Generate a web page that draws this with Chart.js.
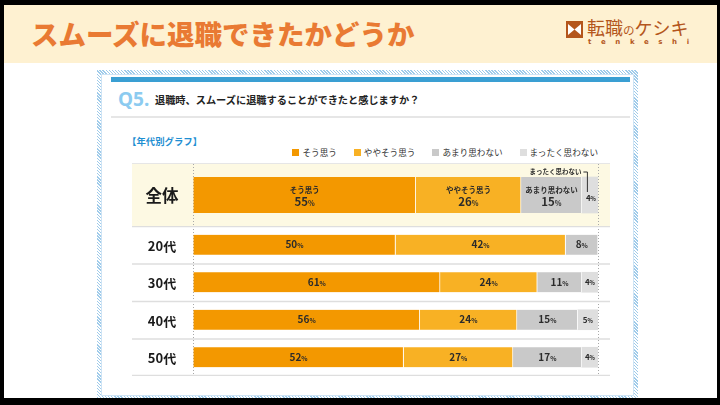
<!DOCTYPE html>
<html lang="ja">
<head>
<meta charset="utf-8">
<script src="https://cdn.jsdelivr.net/npm/chart.js@4.4.1/dist/chart.umd.min.js"></script>
<style>
  html, body { margin: 0; padding: 0; }
  body { width: 720px; height: 405px; background: #000; position: relative; overflow: hidden;
         font-family: "Noto Sans CJK JP", "Noto Sans", sans-serif; }
  .abs { position: absolute; }
  #header { left: 4px; top: 5px; width: 713px; height: 58px; background: #fef1d1; }
  #title { left: 31px; top: 13px; font-size: 27.5px; font-weight: 900; color: #e97a33; white-space: nowrap; }
  #logoText { left: 587px; top: 16px; font-size: 18px; color: #b4561c; white-space: nowrap; line-height: 22px; }
  #logoText small { font-size: 11.5px; }
  #logoSub { left: 588px; top: 38px; font-family: "DejaVu Sans", sans-serif; font-size: 7px; font-weight: bold;
             color: #b4561c; letter-spacing: 9.6px; }
  #white { left: 4px; top: 63px; width: 713px; height: 335px; background: #fff; }
  #frame { left: 97px; top: 70px; width: 541px; height: 328px;
           background: repeating-linear-gradient(45deg, #9fcbea 0 1px, #ffffff 1px 2.2px); }
  #inner { left: 101px; top: 74px; width: 531px; height: 320px; background: #fff; border: 1px solid #cfe4f5; }
  #bluebar { left: 111px; top: 77px; width: 519px; height: 5px; background: #3a9fd3; }
  #q5 { left: 118px; top: 87px; font-family: "Noto Sans", sans-serif; font-size: 19px; font-weight: bold;
        color: #8ccbf0; line-height: 24px; }
  #question { left: 155px; top: 92px; font-size: 10.2px; font-weight: bold; color: #222; line-height: 16px; white-space: nowrap; }
  #grayline { left: 111px; top: 116px; width: 519px; height: 2px; background: #e6e6e6; }
  #subtitle { left: 127px; top: 133px; font-size: 9.4px; font-weight: bold; color: #1f8fd2; line-height: 16px; white-space: nowrap; }
  #legend { right: 122px; top: 147px; height: 10px; display: flex; align-items: center; gap: 17px; }
  #legend .item { display: flex; align-items: center; font-size: 8.6px; color: #333; white-space: nowrap; }
  #legend .box { width: 7px; height: 7px; margin-right: 3px; }
  #totalRow { left: 132px; top: 163px; width: 478px; height: 63px; background: #fdf9e3; border-top: 1px solid #e6e6e6; box-sizing: border-box; }
  canvas { position: absolute; }
</style>
</head>
<body>
<div id="header" class="abs"></div>
<div id="title" class="abs">スムーズに退職できたかどうか</div>
<svg class="abs" style="left:566px;top:21px" width="17" height="17" viewBox="0 0 17 17">
  <rect x="0" y="0" width="17" height="17" fill="#b4561c"/>
  <polygon points="2,3 8.5,8.5 2,14" fill="#fff"/>
  <polygon points="15,3 8.5,8.5 15,14" fill="#fff"/>
</svg>
<div id="logoText" class="abs">転職<small>の</small>ケシキ</div>
<div id="logoSub" class="abs">tenkeshi</div>
<div id="white" class="abs"></div>
<div id="frame" class="abs"></div>
<div id="inner" class="abs"></div>
<div id="bluebar" class="abs"></div>
<div id="q5" class="abs">Q5.</div>
<div id="question" class="abs">退職時、スムーズに退職することができたと感じますか？</div>
<div id="grayline" class="abs"></div>
<div id="subtitle" class="abs">【年代別グラフ】</div>
<div id="legend" class="abs"></div>
<div id="totalRow" class="abs"></div>
<canvas id="chartTotal" width="478" height="62" style="left:132px;top:164px"></canvas>
<canvas id="chartAge" width="478" height="150" style="left:132px;top:226px"></canvas>
<script>
const seriesNames = ["そう思う", "ややそう思う", "あまり思わない", "まったく思わない"];
const seriesColors = ["#f39800", "#f8b124", "#c9c9c9", "#dedede"];

const totalLabels = ["全体"];
const totalValues = [55, 26, 15, 4];

const ageLabels = ["20代", "30代", "40代", "50代"];
const soOmou = [50, 61, 56, 52];
const yayaSoOmou = [42, 24, 24, 27];
const amariOmowanai = [8, 11, 15, 17];
const mattakuOmowanai = [0, 4, 5, 4];

// legend
const legendEl = document.getElementById("legend");
seriesNames.forEach((name, i) => {
  const item = document.createElement("div");
  item.className = "item";
  item.innerHTML = '<span class="box" style="background:' + seriesColors[i] + '"></span>' + name;
  legendEl.appendChild(item);
});

const textColor = "#2b2b2b";
const fontFamily = '"Noto Sans CJK JP", "Noto Sans", sans-serif';

function drawPct(ctx, v, cx, y, numSize, pctSize) {
  ctx.font = "bold " + numSize + "px " + fontFamily;
  const wn = ctx.measureText(String(v)).width;
  ctx.font = "bold " + pctSize + "px " + fontFamily;
  const wp = ctx.measureText("%").width;
  const x = cx - (wn + wp) / 2;
  ctx.textAlign = "left";
  ctx.textBaseline = "alphabetic";
  ctx.font = "bold " + numSize + "px " + fontFamily;
  ctx.fillText(String(v), x, y + numSize * 0.36);
  ctx.font = "bold " + pctSize + "px " + fontFamily;
  ctx.fillText("%", x + wn, y + numSize * 0.36);
}

// category names in the left column, value labels inside the bars
const segLabels = {
  id: "segLabels",
  afterDatasetsDraw(chart, args, opts) {
    const ctx = chart.ctx;
    const yScale = chart.scales.y;
    ctx.save();
    ctx.fillStyle = "#1a1a1a";
    ctx.font = "bold " + opts.catSize + "px " + fontFamily;
    ctx.textAlign = "center";
    ctx.textBaseline = "middle";
    chart.data.labels.forEach((lab, j) => {
      ctx.fillText(lab, chart.chartArea.left - 31, yScale.getPixelForValue(j) + 1);
    });

    ctx.fillStyle = textColor;
    chart.data.datasets.forEach((ds, i) => {
      chart.getDatasetMeta(i).data.forEach((bar, j) => {
        const v = ds.data[j];
        if (!v) return;
        const cx = (bar.x + bar.base) / 2;
        const small = v < 6;
        if (opts.names) {
          if (small) {
            drawPct(ctx, v, cx + 1, bar.y + 3, 8, 5.5);
            const lx = cx - 2.5;
            const top = bar.y - bar.height / 2 - 5;
            ctx.strokeStyle = "#333";
            ctx.lineWidth = 1;
            ctx.beginPath();
            ctx.moveTo(lx - 4, top);
            ctx.lineTo(lx, top);
            ctx.lineTo(lx, bar.y - 3);
            ctx.stroke();
            ctx.font = "bold 6.5px " + fontFamily;
            ctx.textAlign = "right";
            ctx.textBaseline = "middle";
            ctx.fillText(ds.label, lx - 6, top);
          } else {
            ctx.font = "bold 7.5px " + fontFamily;
            ctx.textAlign = "center";
            ctx.textBaseline = "middle";
            ctx.fillText(ds.label, cx, bar.y - 5);
            drawPct(ctx, v, cx, bar.y + 6.5, 11.5, 7);
          }
        } else {
          if (small) drawPct(ctx, v, cx, bar.y, 8, 5.5);
          else drawPct(ctx, v, cx, bar.y, 10, 6.5);
        }
      });
    });
    ctx.restore();
  }
};

const rowLines = {
  id: "rowLines",
  beforeDatasetsDraw(chart, args, opts) {
    if (!opts.rows) return;
    const ctx = chart.ctx;
    const a = chart.chartArea;
    const step = (a.bottom - a.top) / opts.rows;
    ctx.save();
    ctx.strokeStyle = "#dedede";
    ctx.lineWidth = 1.5;
    for (let k = 0; k <= opts.rows; k++) {
      const y = Math.min(a.top + k * step, a.bottom - 1) + 0.5;
      ctx.beginPath();
      ctx.moveTo(0, y);
      ctx.lineTo(chart.width, y);
      ctx.stroke();
    }
    ctx.restore();
  }
};

function makeOptions(catSize, names, rows) {
  return {
    indexAxis: "y",
    responsive: false,
    animation: false,
    layout: { padding: { left: 0, right: 12, top: 0, bottom: 0 } },
    plugins: {
      legend: { display: false },
      tooltip: { enabled: false },
      segLabels: { names: names, catSize: catSize },
      rowLines: { rows: rows }
    },
    scales: {
      x: {
        stacked: true,
        min: 0,
        max: 100,
        ticks: { display: false, stepSize: 100 },
        grid: { color: "#a8a8a8", lineWidth: 1, drawTicks: false },
        border: { display: false, dash: [1, 2] },
        afterFit: s => { s.height = 0; }
      },
      y: {
        stacked: true,
        grid: { display: false, drawTicks: false },
        border: { display: false },
        ticks: { display: false },
        afterFit: s => { s.width = 61; }
      }
    }
  };
}

new Chart(document.getElementById("chartTotal"), {
  type: "bar",
  data: {
    labels: totalLabels,
    datasets: seriesNames.map((name, i) => ({
      label: name,
      data: [totalValues[i]],
      backgroundColor: seriesColors[i],
      borderColor: "rgba(255,255,255,0.8)",
      borderWidth: { right: i < 3 ? 1 : 0, left: 0, top: 0, bottom: 0 },
      borderSkipped: false,
      barThickness: 36
    }))
  },
  options: makeOptions(16.5, true, 0),
  plugins: [segLabels, rowLines]
});

const ageSeries = [soOmou, yayaSoOmou, amariOmowanai, mattakuOmowanai];
new Chart(document.getElementById("chartAge"), {
  type: "bar",
  data: {
    labels: ageLabels,
    datasets: seriesNames.map((name, i) => ({
      label: name,
      data: ageSeries[i],
      backgroundColor: seriesColors[i],
      borderColor: "rgba(255,255,255,0.8)",
      borderWidth: { right: i < 3 ? 1 : 0, left: 0, top: 0, bottom: 0 },
      borderSkipped: false,
      barThickness: 20
    }))
  },
  options: makeOptions(13, false, 4),
  plugins: [segLabels, rowLines]
});
</script>
</body>
</html>
